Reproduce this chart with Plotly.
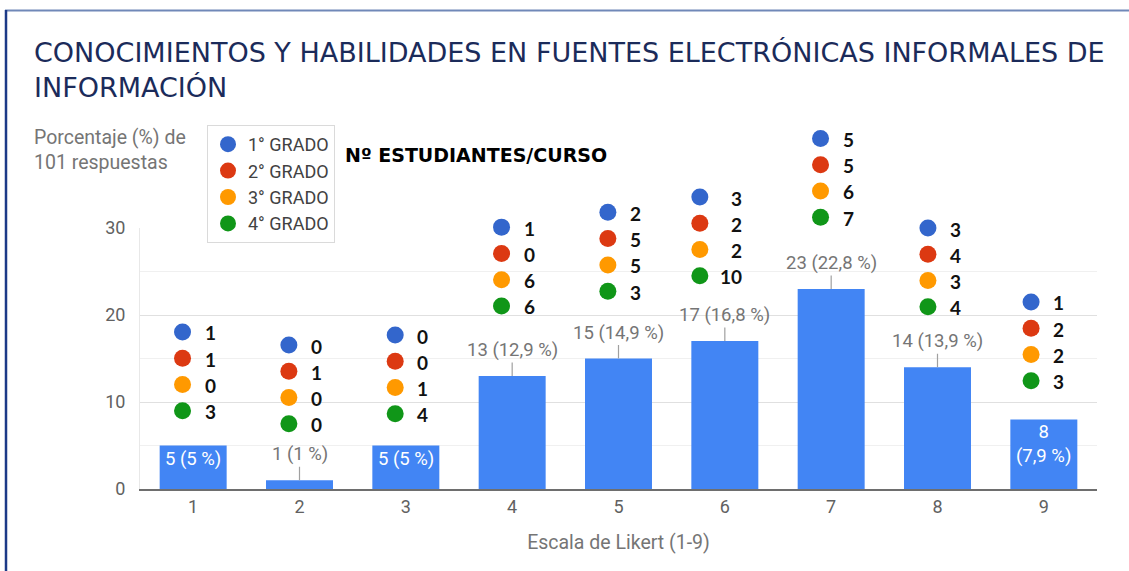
import plotly.graph_objects as go

# ---------------- data ----------------
categories = [1, 2, 3, 4, 5, 6, 7, 8, 9]
tick_labels = ["1", "2", "3", "4", "5", "6", "7", "8", "9"]
counts = [5, 1, 5, 13, 15, 17, 23, 14, 8]
pct_labels = ["5", "1", "5", "12,9", "14,9", "16,8", "22,8", "13,9", "7,9"]

grades = ["1° GRADO", "2° GRADO", "3° GRADO", "4° GRADO"]
grade1 = [1, 0, 0, 1, 2, 3, 5, 3, 1]
grade2 = [1, 1, 0, 0, 5, 2, 5, 4, 2]
grade3 = [0, 0, 1, 6, 5, 2, 6, 3, 2]
grade4 = [3, 0, 4, 6, 3, 10, 7, 4, 3]
grade_values = [grade1, grade2, grade3, grade4]

title_text = "CONOCIMIENTOS Y HABILIDADES EN FUENTES ELECTRÓNICAS INFORMALES DE<br>INFORMACIÓN"
y_title = "Porcentaje (%) de<br>101 respuestas"
x_title = "Escala de Likert (1-9)"
box_title = "Nº ESTUDIANTES/CURSO"

# ---------------- style ----------------
grade_colors = ["#3366cc", "#dc3912", "#ff9900", "#109618"]
bar_color = "#4285f4"
inside_label = [True, False, True, False, False, False, False, False, True]
# placement of the dot groups (data units above the bar / category offsets)
group_offset = [13.05, 15.55, 12.7, 17.1, 16.8, 16.56, 17.3, 16.0, 13.5]
group_dx = [-0.10, -0.10, -0.10, -0.10, -0.10, -0.235, -0.10, -0.09, -0.12]
num_shift = [35, 35, 35, 35, 35, 44, 35, 35, 35]
row_step = 3.02

W, H = 1129, 571
ML, MR, MT, MB = 140, 32, 115, 82
PW, PH = W - ML - MR, H - MT - MB
BAR_H = 261  # pixel height of the bar axis (0-30)
Y_MAX = 30
bar_domain_top = BAR_H / PH
y2_max = Y_MAX * PH / BAR_H


def px_x(p):
    return (p - ML) / PW


def px_y(p):
    return (H - MB - p) / PH


fig = go.Figure()

fig.add_trace(go.Bar(
    x=categories, y=counts, width=0.63, marker=dict(color=bar_color, line=dict(width=0)),
    showlegend=False, hoverinfo="skip",
))

for g, (name, vals, col) in enumerate(zip(grades, grade_values, grade_colors)):
    xs = [c + dx for c, dx in zip(categories, group_dx)]
    ys = [v + off - g * row_step for v, off in zip(counts, group_offset)]
    fig.add_trace(go.Scatter(
        x=xs, y=ys, yaxis="y2", mode="markers", name=name,
        marker=dict(size=17, color=col), hoverinfo="skip",
    ))
    for xv, yv, n, sh in zip(xs, ys, vals, num_shift):
        fig.add_annotation(
            x=xv, y=yv, xref="x", yref="y2", text=f"<b>{n}</b>", showarrow=False,
            xanchor="right", xshift=sh, yshift=-1,
            font=dict(family="Lato", size=19, color="#111111"),
        )

# bar value labels
for c, v, p, ins in zip(categories, counts, pct_labels, inside_label):
    if ins:
        txt = f"{v} ({p} %)" if len(p) < 3 else f"{v}<br>({p} %)"
        fig.add_annotation(
            x=c, y=v, text=txt, showarrow=False, yanchor="top", yshift=0,
            font=dict(family="Roboto", size=18.5, color="#ffffff"),
        )
    else:
        fig.add_annotation(
            x=c, y=v, text=f"{v} ({p} %)", showarrow=True, arrowhead=0, arrowwidth=1.2,
            arrowcolor="#a0a0a0", ax=0, ay=-26, standoff=0,
            font=dict(family="Roboto", size=18.5, color="#757575"),
        )

# title
fig.add_annotation(
    xref="paper", yref="paper", x=px_x(32), y=px_y(35), xanchor="left", yanchor="top",
    text=title_text, showarrow=False, align="left",
    font=dict(family="DejaVu Sans", size=27, color="#1b2b5a"),
)
# y title (top-left)
fig.add_annotation(
    xref="paper", yref="paper", x=px_x(32), y=px_y(124), xanchor="left", yanchor="top",
    text=y_title, showarrow=False, align="left",
    font=dict(family="Roboto", size=19.5, color="#757575"),
)
# box heading
fig.add_annotation(
    xref="paper", yref="paper", x=px_x(343), y=px_y(155), xanchor="left", yanchor="middle",
    text=f"<b>{box_title}</b>", showarrow=False,
    font=dict(family="DejaVu Sans", size=19, color="#000000"),
)

# frame lines
fig.add_shape(type="line", xref="paper", yref="paper", x0=px_x(5), x1=px_x(1129),
              y0=px_y(10.5), y1=px_y(10.5), line=dict(color="#7088b8", width=2))
fig.add_shape(type="line", xref="paper", yref="paper", x0=px_x(6), x1=px_x(6),
              y0=px_y(10), y1=px_y(575), line=dict(color="#1c3a87", width=2.5))

fig.update_layout(
    width=W, height=H, margin=dict(l=ML, r=MR, t=MT, b=MB, pad=0),
    paper_bgcolor="white", plot_bgcolor="rgba(0,0,0,0)",
    showlegend=True,
    legend=dict(
        x=px_x(207), y=px_y(125), xanchor="left", yanchor="top",
        bordercolor="#dadada", borderwidth=1, bgcolor="white",
        font=dict(family="Roboto", size=18, color="#424242"),
        tracegroupgap=0, itemsizing="trace",
    ),
    xaxis=dict(
        range=[0.5, 9.5], tickmode="array", tickvals=categories, ticktext=tick_labels,
        showgrid=False, zeroline=False, showline=True, linecolor="#6e6e6e", linewidth=2,
        ticks="", tickfont=dict(family="Roboto", size=18, color="#616161"),
        title=dict(text=x_title, font=dict(family="Roboto", size=19.5, color="#757575"), standoff=20),
    ),
    yaxis=dict(
        domain=[0, bar_domain_top],
        range=[0, Y_MAX], tickmode="array", tickvals=[0, 10, 20, 30],
        showgrid=True, gridcolor="#e0e0e0", gridwidth=1,
        minor=dict(tickvals=[5, 15, 25], showgrid=True, gridcolor="#f0f0f0"),
        zeroline=False, showline=True, linecolor="#e8e8e8", linewidth=1,
        ticks="", ticklabelstandoff=10,
        tickfont=dict(family="Roboto", size=18, color="#616161"),
    ),
    yaxis2=dict(
        domain=[0, 1], range=[0, y2_max], anchor="x", visible=False,
        showgrid=False, zeroline=False,
    ),
)

fig.write_html(
    "out.html",
    config={"displayModeBar": False},
    post_script="document.body.style.margin='0';document.body.style.overflow='hidden';",
)
